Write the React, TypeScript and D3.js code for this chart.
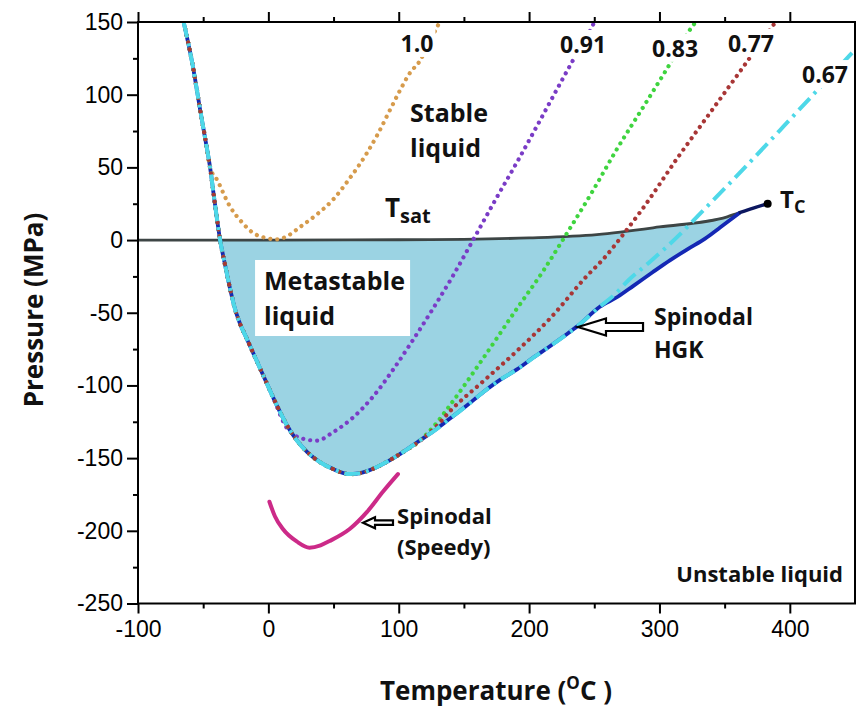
import React, { useRef, useEffect } from "react";
import * as d3 from "d3";

type Pt = [number, number]; // [temperature (°C), pressure (MPa)]

const xMajor = [-100, 0, 100, 200, 300, 400];
const xMinor = [-50, 50, 150, 250, 350];
const yMajor = [150, 100, 50, 0, -50, -100, -150, -200, -250];
const yMinor = [125, 75, 25, -25, -75, -125, -175, -225];

// liquid spinodal (HGK), from the top-left down through the minimum to Tc
const spinodalHGK: Pt[] = [
  [-65, 150], [-58, 120], [-52.4, 90], [-48.5, 70], [-44.8, 50.5], [-41, 25], [-37, 0],
  [-33, -18], [-29, -35], [-26, -46], [-22, -57], [-17, -67], [-12, -77], [-4, -93],
  [3.5, -108], [14, -127], [22, -138], [30, -146], [40, -153], [49.6, -157.5], [62.6, -161],
  [72, -160], [80, -157.5], [92, -152], [103, -146], [116, -138], [129, -130], [139, -123],
  [152, -114], [165, -104.5], [178, -96], [190.7, -89], [203, -81], [216, -73], [227, -66],
  [237.5, -59], [254, -46], [268, -39], [280, -31.5], [295, -22], [308, -14], [322, -6],
  [335, 1], [347, 9], [362, 19], [372, 22], [383, 25],
];

// saturation line up to the critical point
const saturation: Pt[] = [
  [-100, 0], [0, 0], [100, 0.2], [150, 0.5], [200, 1.5], [252, 3.8], [300, 9], [352, 16],
  [362, 19], [383, 25],
];

const speedySpinodal: Pt[] = [
  [0.8, -180], [5, -190], [11, -198.6], [22, -207.5], [31.5, -211.6], [40, -210], [47, -207],
  [62.6, -198.6], [75.7, -187], [88, -173], [99.4, -161],
];

// isochores: the part that leaves the spinodal (they run along it before that)
const iso100: Pt[] = [
  [-44.8, 50], [-39.4, 41.5], [-29.4, 23], [-20, 12], [-11.8, 5], [-2, 1.5], [6.6, 0.5],
  [15, 3], [24.3, 9], [37, 17.5], [49.6, 27.8], [62, 42], [75.7, 60], [84, 73], [93.3, 89.5],
  [101, 103], [108.6, 115], [116, 123], [123, 135], [129.4, 146.5], [131.5, 150],
];
const iso091: Pt[] = [
  [14, -129], [19, -133.5], [28, -137], [37, -138], [50, -132], [65, -122], [80, -108],
  [95, -90], [110, -70], [125, -49], [141, -25.5], [157, 0], [175, 29], [191, 54], [207, 80],
  [224, 108], [237, 129], [249, 148], [250, 150],
];
const iso083: Pt[] = [
  [115, -139], [127, -128], [139, -114], [165, -81], [190, -48], [211, -21], [227.5, 2.5],
  [248, 32.5], [267, 62], [290, 95], [310, 124], [327, 149], [328, 150],
];
const iso077: Pt[] = [
  [115, -139], [128, -129], [139, -118], [165, -97], [191, -76], [216, -54], [244, -25],
  [257, -13], [274, 6], [285, 19], [315, 58], [340, 89], [365, 120], [389, 150],
];
const iso067: Pt[] = [
  [265, -38], [277, -27], [290, -17], [304, -6], [318, 6], [331, 18], [356, 41], [395, 78],
  [421, 103], [450, 131],
];

const isoLabels = ["1.0", "0.91", "0.83", "0.77", "0.67"];

const FONT = "'Open Sans', 'DejaVu Sans', sans-serif";
const TICK_FONT = "'Liberation Sans', Arial, sans-serif";

const App = () => {
  const ref = useRef<SVGSVGElement>(null);

  useEffect(() => {
    if (!ref.current) return;
    const svg = d3.select(ref.current);
    svg.selectAll("*").remove();

    const left = 138, right = 855, top = 22, bottom = 603.5;
    const x = d3.scaleLinear().domain([-100, 450]).range([left, right]);
    const y = d3.scaleLinear().domain([-250, 150]).range([bottom, top]);

    svg.append("defs").append("clipPath").attr("id", "plotArea")
      .append("rect").attr("x", left).attr("y", top)
      .attr("width", right - left).attr("height", bottom - top);

    const line = d3.line<Pt>().x((d) => x(d[0])).y((d) => y(d[1])).curve(d3.curveMonotoneX);
    const plot = svg.append("g").attr("clip-path", "url(#plotArea)");

    // metastable region between saturation and spinodal
    const tStart = -37, tEnd = 362;
    const fillPts: Pt[] = [
      ...saturation.filter((d) => d[0] > tStart && d[0] <= tEnd),
      ...spinodalHGK.filter((d) => d[0] >= tStart && d[0] <= tEnd).reverse(),
    ];
    plot.append("path")
      .attr("d", d3.line<Pt>().x((d) => x(d[0])).y((d) => y(d[1])).curve(d3.curveLinear)(fillPts) + "Z")
      .attr("fill", "#9bd3e3");

    // saturation line
    plot.append("path").attr("d", line(saturation.filter((d) => d[0] <= 362)))
      .attr("fill", "none").attr("stroke", "#3d4545").attr("stroke-width", 2.8);

    // spinodal HGK
    plot.append("path").attr("d", line(spinodalHGK.filter((d) => d[0] <= 362)))
      .attr("fill", "none").attr("stroke", "#1428b4").attr("stroke-width", 3.8)
      .attr("stroke-linejoin", "round");
    plot.append("path").attr("d", line(spinodalHGK.filter((d) => d[0] >= 362)))
      .attr("fill", "none").attr("stroke", "#0c1760").attr("stroke-width", 3.4)
      .attr("stroke-linecap", "round");

    // isochores (follow the spinodal until they leave it)
    const withSpinodal = (branch: Pt[]): Pt[] => [
      ...spinodalHGK.filter((d) => d[0] < branch[0][0]),
      ...branch,
    ];
    const dotted = [
      { data: iso100, color: "#d69b4c" },
      { data: iso091, color: "#7a3cc6" },
      { data: iso083, color: "#3fd43f" },
      { data: iso077, color: "#a83636" },
    ];
    dotted.forEach((s) => {
      plot.append("path").attr("d", line(withSpinodal(s.data)))
        .attr("fill", "none").attr("stroke", s.color).attr("stroke-width", 4.2)
        .attr("stroke-linecap", "round").attr("stroke-dasharray", "0.01 7");
    });
    plot.append("path").attr("d", line(withSpinodal(iso067)))
      .attr("fill", "none").attr("stroke", "#4ed8e8").attr("stroke-width", 4)
      .attr("stroke-dasharray", "16 6 3 6");

    // Speedy spinodal
    plot.append("path").attr("d", line(speedySpinodal))
      .attr("fill", "none").attr("stroke", "#cc2a88").attr("stroke-width", 4)
      .attr("stroke-linecap", "round");

    // critical point
    svg.append("circle").attr("cx", x(383)).attr("cy", y(25)).attr("r", 4).attr("fill", "#000");

    // frame and ticks
    const axes = svg.append("g");
    const tickAxis = (axis: d3.Axis<d3.NumberValue>, tr: string, labels: boolean) => {
      const g = axes.append("g").attr("transform", tr).call(axis);
      g.select(".domain").remove();
      g.selectAll("line").attr("stroke", "#000").attr("stroke-width", 2);
      g.selectAll("text").attr("font-family", TICK_FONT).attr("font-size", 23).attr("fill", "#000");
      if (!labels) g.selectAll("text").remove();
      return g;
    };
    const fmt = (d: d3.NumberValue) => String(d);
    tickAxis(d3.axisBottom(x).tickValues(xMajor).tickSize(10).tickPadding(7).tickFormat(fmt), `translate(0,${bottom})`, true);
    tickAxis(d3.axisBottom(x).tickValues(xMinor).tickSize(5), `translate(0,${bottom})`, false);
    tickAxis(d3.axisTop(x).tickValues(xMajor).tickSize(10), `translate(0,${top})`, false);
    tickAxis(d3.axisTop(x).tickValues(xMinor).tickSize(5), `translate(0,${top})`, false);
    tickAxis(d3.axisLeft(y).tickValues(yMajor).tickSize(11).tickPadding(4).tickFormat(fmt), `translate(${left},0)`, true);
    tickAxis(d3.axisLeft(y).tickValues(yMinor).tickSize(5), `translate(${left},0)`, false);
    axes.append("rect").attr("x", left).attr("y", top).attr("width", right - left)
      .attr("height", bottom - top).attr("fill", "none").attr("stroke", "#000").attr("stroke-width", 2);

    // annotations
    const text = (T: number, P: number, s: string, size: number, anchor = "start") =>
      svg.append("text").attr("x", x(T)).attr("y", y(P)).attr("font-family", FONT)
        .attr("font-weight", 700).attr("font-size", size).attr("text-anchor", anchor)
        .attr("fill", "#111").text(s);

    const isoLabelAt: Pt[] = [[114, 129.4], [241.4, 128.7], [312, 126], [370.2, 129.4], [427, 108]];
    isoLabels.forEach((s, i) => {
      const t = text(isoLabelAt[i][0], isoLabelAt[i][1], s, 23, "middle");
      const b = (t.node() as SVGTextElement).getBBox();
      svg.insert("rect", () => t.node()).attr("x", b.x - 2).attr("y", b.y + 2)
        .attr("width", b.width + 4).attr("height", b.height - 4).attr("fill", "#fff");
    });

    text(108.7, 81.2, "Stable", 25);
    text(108.7, 57.2, "liquid", 25);

    const tsat = text(89.5, 15.9, "T", 26);
    tsat.append("tspan").attr("font-size", 20).attr("dy", 6).text("sat");
    const tc = text(392.5, 22, "T", 24);
    tc.append("tspan").attr("font-size", 18).attr("dy", 5).text("C");

    svg.append("rect").attr("x", x(-10.2)).attr("y", y(-13.7))
      .attr("width", x(108.7) - x(-10.2)).attr("height", y(-66) - y(-13.7)).attr("fill", "#fff");
    text(-3.3, -34.3, "Metastable", 25);
    text(-3.3, -58.4, "liquid", 25);

    text(295.8, -58.4, "Spinodal", 23);
    text(295.8, -81.1, "HGK", 23);
    text(98.7, -195.3, "Spinodal", 22);
    text(98.7, -216.6, "(Speedy)", 22);
    text(440.8, -235.2, "Unstable liquid", 22, "end");

    // hollow block arrows pointing left
    const arrow = (tipT: number, tipP: number, tailT: number, head: number, hh: number, sh: number) => {
      const tx = x(tipT), ty = y(tipP), ex = x(tailT);
      const pts: [number, number][] = [
        [tx, ty], [tx + head, ty - hh], [tx + head, ty - sh], [ex, ty - sh],
        [ex, ty + sh], [tx + head, ty + sh], [tx + head, ty + hh],
      ];
      svg.append("polygon").attr("points", pts.map((p) => p.join(",")).join(" "))
        .attr("fill", "#fff").attr("stroke", "#000").attr("stroke-width", 2.2)
        .attr("stroke-linejoin", "miter");
    };
    arrow(237.5, -59.8, 287.4, 28, 8.5, 4);
    arrow(72.6, -194.4, 95.6, 12, 5.5, 2.2);

    // axis titles
    const xt = svg.append("text").attr("x", 496).attr("y", 700).attr("text-anchor", "middle")
      .attr("font-family", FONT).attr("font-weight", 700).attr("font-size", 26).attr("fill", "#111");
    xt.append("tspan").text("Temperature (");
    xt.append("tspan").attr("font-size", 17).attr("dy", -11).text("O");
    xt.append("tspan").attr("dy", 11).text("C )");

    svg.append("text").attr("transform", "translate(43,310) rotate(-90)")
      .attr("text-anchor", "middle").attr("font-family", FONT).attr("font-weight", 700)
      .attr("font-size", 26).attr("fill", "#111").text("Pressure (MPa)");
  }, []);

  return (
    <div style={{ position: "absolute", left: 0, top: 0 }}>
      <svg ref={ref} width={858} height={708} style={{ display: "block", background: "#fff" }} />
    </div>
  );
};

export default App;
